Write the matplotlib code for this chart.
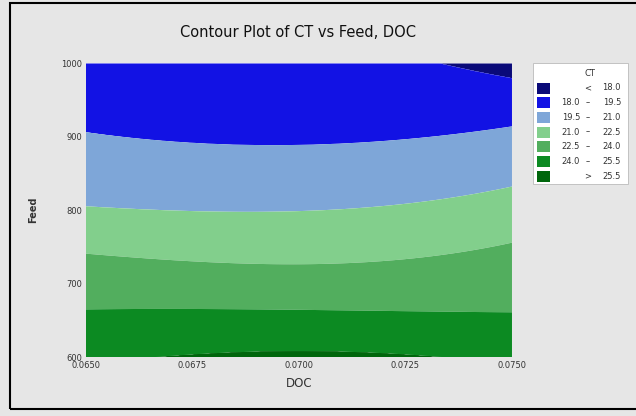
import numpy as np
import matplotlib
matplotlib.use("Agg")
import matplotlib.pyplot as plt
from matplotlib.patches import Rectangle

# boundary feed values of each CT level, read at five DOC positions
doc_pts = [0.0650, 0.0675, 0.0700, 0.0725, 0.0750]
ct_levels = [18.0, 19.5, 21.0, 22.5, 24.0, 25.5]
feed_18_0 = [1100, 1080, 1050, 1010, 980]
feed_19_5 = [906, 893, 887, 898, 914]
feed_21_0 = [805, 800, 797, 810, 832]
feed_22_5 = [741, 730, 727, 733, 756]
feed_24_0 = [665, 665, 665, 662, 661]
feed_25_5 = [590, 603, 610, 603, 590]

colours = ["#0a0a78", "#1212e4", "#7ea6d8", "#82cf8c", "#52ae5e", "#0c8a22", "#00660c"]
band_labels = [("", "<", "18.0"), ("18.0", "\u2013", "19.5"), ("19.5", "\u2013", "21.0"),
               ("21.0", "\u2013", "22.5"), ("22.5", "\u2013", "24.0"),
               ("24.0", "\u2013", "25.5"), ("", ">", "25.5")]

boundaries = [feed_18_0, feed_19_5, feed_21_0, feed_22_5, feed_24_0, feed_25_5]

doc = np.linspace(0.065, 0.075, 301)
feed = np.linspace(600, 1000, 301)

# smooth each level boundary across DOC
curves = []
for b in boundaries:
    c = np.polyfit(doc_pts, b, 3)
    curves.append(np.polyval(c, doc))
curves = np.array(curves)

# CT along each DOC column, piecewise between the level boundaries
lv = np.array([16.5] + ct_levels + [27.0])
Z = np.zeros((len(feed), len(doc)))
for j in range(len(doc)):
    f = np.concatenate([[1400], curves[:, j], [200]])
    Z[:, j] = np.interp(feed, f[::-1], lv[::-1])

fig = plt.figure(figsize=(6.36, 4.16), dpi=100, facecolor="#e6e6e6")
ax = fig.add_axes([0.1352, 0.1418, 0.6698, 0.7056])

cut = [0] + ct_levels + [100]
ax.contourf(doc, feed, Z, levels=cut, colors=colours, antialiased=True)

ax.set_xlim(0.065, 0.075)
ax.set_ylim(600, 1000)
ax.set_xticks([0.065, 0.0675, 0.07, 0.0725, 0.075])
ax.set_xticklabels(["0.0650", "0.0675", "0.0700", "0.0725", "0.0750"])
ax.set_yticks([600, 700, 800, 900, 1000])
ax.tick_params(labelsize=6, length=0, pad=3, colors="#333333")
for s in ax.spines.values():
    s.set_visible(False)

ax.set_xlabel("DOC", fontsize=8.5, color="#333333", labelpad=5)
ax.set_ylabel("Feed", fontsize=7, fontweight="bold", color="#333333", labelpad=16)
fig.text(0.469, 0.922, "Contour Plot of CT vs Feed, DOC", ha="center", va="center",
         fontsize=10.5, color="#111111")

# legend box
W, H = 636.0, 416.0
fig.patches.append(Rectangle((533 / W, 1 - 184 / H), 95 / W, 121 / H, transform=fig.transFigure,
                             facecolor="white", edgecolor="#bbbbbb", linewidth=0.6))
fig.text(590 / W, 1 - 73 / H, "CT", ha="center", va="center", fontsize=6, color="#333333")
for i, (lo, sep, hi) in enumerate(band_labels):
    y = 88 + i * 14.7
    fig.patches.append(Rectangle((537 / W, 1 - (y + 5.5) / H), 13 / W, 11 / H,
                                 transform=fig.transFigure, facecolor=colours[i],
                                 edgecolor="none"))
    yy = 1 - y / H
    fig.text(580 / W, yy, lo, ha="right", va="center", fontsize=6, color="#333333")
    fig.text(588 / W, yy, sep, ha="center", va="center", fontsize=6, color="#333333")
    fig.text(621 / W, yy, hi, ha="right", va="center", fontsize=6, color="#333333")

# outer frame
fig.patches.append(Rectangle((10 / W, 1 - 409 / H), 640 / W, 406 / H, transform=fig.transFigure,
                             facecolor="none", edgecolor="black", linewidth=1.5))

fig.savefig("out.png", dpi=100, facecolor=fig.get_facecolor())
